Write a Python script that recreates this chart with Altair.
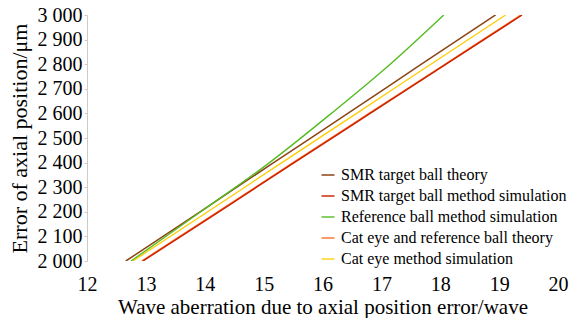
import altair as alt
import pandas as pd

series_names = [
    "SMR target ball theory",
    "SMR target ball method simulation",
    "Reference ball method simulation",
    "Cat eye and reference ball theory",
    "Cat eye method simulation",
]
colors = ["#8B4513", "#CC2200", "#55BB22", "#FF6A22", "#FFCC00"]

y_vals = [2000, 2200, 2400, 2600, 2800, 3000]
x_smr_theory = [12.66, 13.92, 15.17, 16.43, 17.68, 18.94]
x_smr_sim = [12.95, 14.24, 15.52, 16.81, 18.10, 19.39]
x_ref_sim = [12.75, 13.93, 15.10, 16.15, 17.15, 18.06]
x_cat_theory = [12.93, 14.22, 15.50, 16.79, 18.08, 19.37]
x_cat_sim = [12.78, 14.05, 15.31, 16.58, 17.84, 19.11]

# drawing order: orange underneath red
draw_order = [
    (series_names[3], x_cat_theory),
    (series_names[0], x_smr_theory),
    (series_names[2], x_ref_sim),
    (series_names[4], x_cat_sim),
    (series_names[1], x_smr_sim),
]
rows = []
for name, xs in draw_order:
    for i, (xv, yv) in enumerate(zip(xs, y_vals)):
        rows.append({"series": name, "x": xv, "y": yv, "i": i})
df = pd.DataFrame(rows)

font = "Liberation Serif"

chart = alt.Chart(df).mark_line(clip=True, interpolate="monotone").encode(
    x=alt.X("x:Q", scale=alt.Scale(domain=[12, 20], nice=False),
            axis=alt.Axis(title="Wave aberration due to axial position error/wave",
                          values=list(range(12, 21)), grid=False, domain=False,
                          ticks=False, labelPadding=13, titlePadding=2,
                          labelFlush=False,
                          labelFont=font, titleFont=font,
                          labelFontSize=20, titleFontSize=21)),
    y=alt.Y("y:Q", scale=alt.Scale(domain=[2000, 3000], nice=False),
            axis=alt.Axis(title="Error of axial position/μm",
                          values=list(range(2000, 3001, 100)), grid=False,
                          domainColor="#cccccc", tickColor="#cccccc", tickSize=3,
                          labelPadding=2, titlePadding=6, labelFlush=False,
                          labelFont=font, titleFont=font,
                          labelExpr="replace(format(datum.value, ','), ',', ' ')",
                          labelFontSize=20, titleFontSize=22)),
    color=alt.Color("series:N", scale=alt.Scale(domain=series_names, range=colors),
                    legend=alt.Legend(title=None, orient="none", legendX=233, legendY=152,
                                      symbolType="stroke", symbolSize=169,
                                      symbolStrokeWidth=1.5, labelFontSize=16,
                                      labelFont=font, labelOffset=5,
                                      rowPadding=5, labelLimit=400)),
    strokeWidth=alt.StrokeWidth("series:N",
                                scale=alt.Scale(domain=series_names,
                                                range=[1.5, 1.3, 1.4, 2.6, 1.6]),
                                legend=None),
    order="i:O",
).properties(
    width=471, height=246,
    autosize=alt.AutoSizeParams(type="none"),
    padding={"left": 79, "top": 7, "right": 13, "bottom": 57},
).configure_axis(
    labelColor="black", titleColor="black", titleFontWeight="normal",
).configure_legend(
    labelColor="black",
).configure_view(stroke=None)

chart.save("out.html", embed_options={"renderer": "svg", "actions": False})
